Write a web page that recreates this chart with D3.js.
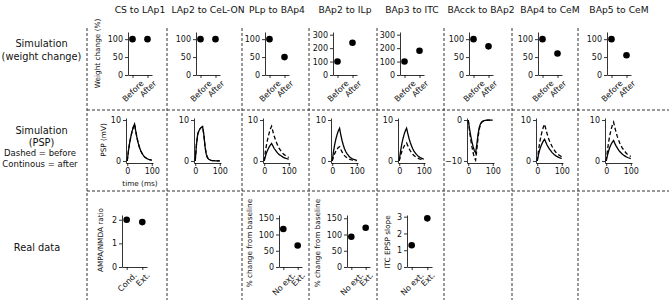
<!DOCTYPE html>
<html>
<head>
<meta charset="utf-8">
<script src="https://cdn.jsdelivr.net/npm/d3@7"></script>
<style>
  body { margin: 0; background: #fff; }
  text { font-family: "DejaVu Sans", sans-serif; fill: #111; }
</style>
</head>
<body>
<svg id="drawing_region"></svg>
<script>
// ---- data ----
const columns = ["CS to LAp1", "LAp2 to CeL-ON", "PLp to BAp4", "BAp2 to ILp",
                 "BAp3 to ITC", "BAcck to BAp2", "BAp4 to CeM", "BAp5 to CeM"];
const weightLabels = ["Before", "After"];
const weightBefore = [100, 100, 100, 100, 100, 100, 100, 100];
const weightAfter  = [100, 100, 50, 240, 180, 80, 60, 55];
const weightMax    = [120, 120, 120, 320, 320, 120, 120, 120];
const weightTicks  = [[0, 50, 100], [0, 50, 100], [0, 50, 100], [0, 100, 200, 300],
                      [0, 100, 200, 300], [0, 50, 100], [0, 50, 100], [0, 50, 100]];

const time = [0, 5, 10, 15, 20, 25, 30, 35, 40, 45, 50, 55, 60, 65, 70, 75, 80, 85, 90, 95, 100];
const pspBefore = [
  [0, 2.5, 4.5, 6.0, 7.3, 8.3, 9.0, 7.2, 5.6, 4.3, 3.3, 2.5, 1.9, 1.4, 1.0, 0.8, 0.6, 0.45, 0.35, 0.25, 0.2],
  [0, 4.0, 6.5, 7.4, 7.9, 8.2, 8.4, 6.5, 3.5, 1.6, 0.8, 0.4, 0.25, 0.15, 0.1, 0.08, 0.05, 0.04, 0.03, 0.02, 0.02],
  [0, 2.4, 4.2, 5.6, 6.8, 7.8, 8.5, 7.3, 6.2, 5.3, 4.5, 3.8, 3.2, 2.7, 2.3, 1.9, 1.6, 1.4, 1.2, 1.0, 0.85],
  [0, 1.0, 1.8, 2.4, 2.9, 3.3, 3.5, 2.8, 2.2, 1.7, 1.3, 1.0, 0.8, 0.6, 0.45, 0.35, 0.27, 0.2, 0.15, 0.1, 0.08],
  [0, 1.2, 2.2, 3.0, 3.6, 4.1, 4.4, 3.7, 3.0, 2.5, 2.0, 1.65, 1.35, 1.1, 0.9, 0.7, 0.58, 0.47, 0.38, 0.3, 0.25],
  [0, -2.5, -4.7, -6.5, -8.0, -9.2, -9.8, -7.3, -4.3, -2.2, -1.1, -0.55, -0.3, -0.18, -0.1, -0.06, -0.03, -0.02, -0.01, 0, 0],
  [0, 2.5, 4.5, 6.0, 7.3, 8.3, 9.0, 7.8, 6.7, 5.7, 4.9, 4.2, 3.6, 3.1, 2.6, 2.2, 1.9, 1.6, 1.4, 1.2, 1.0],
  [0, 2.6, 4.7, 6.4, 7.7, 8.8, 9.5, 8.2, 7.0, 6.0, 5.2, 4.4, 3.8, 3.2, 2.8, 2.4, 2.0, 1.7, 1.5, 1.3, 1.1]
];
const pspAfter = [
  [0, 2.5, 4.5, 6.0, 7.3, 8.3, 9.0, 7.2, 5.6, 4.3, 3.3, 2.5, 1.9, 1.4, 1.0, 0.8, 0.6, 0.45, 0.35, 0.25, 0.2],
  [0, 4.0, 6.5, 7.4, 7.9, 8.2, 8.4, 6.5, 3.5, 1.6, 0.8, 0.4, 0.25, 0.15, 0.1, 0.08, 0.05, 0.04, 0.03, 0.02, 0.02],
  [0, 1.2, 2.1, 2.8, 3.4, 3.9, 4.3, 3.7, 3.1, 2.7, 2.3, 1.9, 1.6, 1.4, 1.2, 1.0, 0.8, 0.7, 0.6, 0.5, 0.45],
  [0, 2.2, 4.0, 5.4, 6.5, 7.4, 8.0, 6.4, 5.0, 3.9, 3.0, 2.3, 1.8, 1.4, 1.0, 0.8, 0.6, 0.45, 0.35, 0.25, 0.2],
  [0, 2.2, 4.0, 5.4, 6.5, 7.4, 8.0, 6.7, 5.5, 4.5, 3.7, 3.0, 2.4, 2.0, 1.6, 1.3, 1.05, 0.85, 0.7, 0.55, 0.45],
  [0, -2.0, -3.8, -5.3, -6.5, -7.5, -8.0, -6.0, -3.5, -1.8, -0.9, -0.45, -0.25, -0.15, -0.1, -0.05, -0.03, -0.02, -0.01, 0, 0],
  [0, 1.5, 2.7, 3.6, 4.3, 4.9, 5.3, 4.6, 3.9, 3.4, 2.9, 2.5, 2.1, 1.8, 1.5, 1.3, 1.1, 0.95, 0.8, 0.7, 0.6],
  [0, 1.4, 2.5, 3.4, 4.1, 4.6, 5.0, 4.3, 3.7, 3.2, 2.7, 2.3, 2.0, 1.7, 1.45, 1.25, 1.05, 0.9, 0.78, 0.67, 0.58]
];
const pspDomain = [[-0.5, 10.5], [-0.5, 10.5], [-0.5, 10.5], [-0.5, 10.5],
                   [-0.5, 10.5], [-10.5, 0.5], [-0.5, 10.5], [-0.5, 10.5]];
const pspTicks  = [[0, 10], [0, 10], [0, 10], [0, 10], [0, 10], [-10, 0], [0, 10], [0, 10]];
const timeTicks = [0, 100];

const realColumn  = [0, 2, 3, 4];
const realLabels  = [["Cond.", "Ext."], ["No ext.", "Ext."], ["No ext.", "Ext."], ["No ext.", "Ext."]];
const realValues  = [[2.0, 1.9], [117, 66], [93, 121], [1.3, 2.9]];
const realMax     = [2.2, 160, 160, 3.1];
const realTicks   = [[0, 1, 2], [0, 50, 100, 150], [0, 50, 100, 150], [0, 1, 2, 3]];
const realYLabels = ["AMPA/NMDA ratio", "% change from baseline", "% change from baseline", "ITC EPSP slope"];

const rowLabels = [["Simulation", "(weight change)"], ["Simulation", "(PSP)"], ["Real data"]];
const pspNote = ["Dashed = before", "Continous = after"];

// ---- layout ----
const config = {
  width: 669, height: 300,
  colLeft: [128, 196, 265, 333, 400, 469, 538, 607],
  colWidth: 24,
  realLeft: [122, 279, 347, 407],
  realWidth: [25, 23, 23, 25],
  row1: {top: 32, bottom: 75},
  row2: {top: 118, bottom: 163},
  row3: {top: 215, bottom: 267},
  dividersX: [87, 167, 242, 309, 377, 444, 512, 578],
  dividersY: [110, 191],
  tickFont: 8, labelFont: 7.3
};

const svg = d3.select('#drawing_region')
  .attr('width', config.width)
  .attr('height', config.height);

// dashed grid
svg.selectAll('line.vdiv')
  .data(config.dividersX)
  .enter().append('line')
  .attr('x1', d => d).attr('x2', d => d)
  .attr('y1', 28).attr('y2', config.height)
  .attr('stroke', '#333').attr('stroke-width', 1)
  .attr('stroke-dasharray', '3,2');
svg.selectAll('line.hdiv')
  .data(config.dividersY)
  .enter().append('line')
  .attr('x1', 87).attr('x2', config.width)
  .attr('y1', d => d).attr('y2', d => d)
  .attr('stroke', '#333').attr('stroke-width', 1)
  .attr('stroke-dasharray', '3,2');

function styleAxis(g) {
  g.selectAll('.domain').attr('stroke', '#000').attr('stroke-width', 0.8);
  g.selectAll('.tick line').attr('stroke', '#000').attr('stroke-width', 0.8);
  g.selectAll('.tick text').attr('font-size', config.tickFont).attr('font-family', '"DejaVu Sans"').attr('fill', '#111');
}

function rotateTicks(g) {
  g.selectAll('.tick text').each(function() {
    const len = this.getComputedTextLength();
    const h = (len + config.tickFont) * Math.SQRT1_2;
    d3.select(this)
      .attr('text-anchor', 'middle')
      .attr('y', 0).attr('dy', '0.35em')
      .attr('transform', `translate(0,${4 + h / 2}) rotate(-45)`);
  });
}

function makeAxes(left, width, top, bottom, xdomain, ydomain, xticks, yticks, rotate) {
  const g = svg.append('g');
  const x = d3.scaleLinear().domain(xdomain).range([left, left + width]);
  const y = d3.scaleLinear().domain(ydomain).range([bottom, top]);
  const xa = g.append('g').attr('transform', `translate(0,${bottom})`);
  if (rotate) {
    xa.call(d3.axisBottom(x).tickValues([0, 1]).tickFormat(d => xticks[d]).tickSize(3).tickSizeOuter(0).tickPadding(2));
  } else {
    xa.call(d3.axisBottom(x).tickValues(xticks).tickFormat(d3.format('d')).tickSize(3).tickSizeOuter(0).tickPadding(2));
  }
  styleAxis(xa);
  if (rotate) rotateTicks(xa);
  const ya = g.append('g').attr('transform', `translate(${left},0)`)
    .call(d3.axisLeft(y).tickValues(yticks).tickFormat(d3.format('d')).tickSize(3).tickSizeOuter(0).tickPadding(2));
  styleAxis(ya);
  return {g, x, y};
}

function yLabel(text, x, cy) {
  svg.append('text')
    .attr('transform', `translate(${x},${cy}) rotate(-90)`)
    .attr('text-anchor', 'middle')
    .attr('font-size', config.labelFont)
    .text(text);
}

// column titles
svg.selectAll('text.title')
  .data(columns)
  .enter().append('text')
  .attr('x', (d, i) => config.colLeft[i] + config.colWidth / 2)
  .attr('y', 13)
  .attr('text-anchor', 'middle')
  .attr('font-size', 9.2)
  .text(d => d);

// row labels
const rowY = [[47, 60], [134, 146]];
rowLabels.slice(0, 2).forEach((lines, r) => {
  lines.forEach((s, k) => {
    svg.append('text').attr('x', 41.5).attr('y', rowY[r][k])
      .attr('text-anchor', 'middle').attr('font-size', 9.8).text(s);
  });
});
pspNote.forEach((s, k) => {
  svg.append('text').attr('x', 40).attr('y', 156 + k * 10.5)
    .attr('text-anchor', 'middle').attr('font-size', 8.5).text(s);
});
svg.append('text').attr('x', 37).attr('y', 251)
  .attr('text-anchor', 'middle').attr('font-size', 9.8).text(rowLabels[2][0]);

// row 1: weight change
columns.forEach((c, i) => {
  const ax = makeAxes(config.colLeft[i], config.colWidth, config.row1.top, config.row1.bottom,
    [-0.3, 1.3], [0, weightMax[i]], weightLabels, weightTicks[i], true);
  ax.g.selectAll('circle')
    .data([weightBefore[i], weightAfter[i]])
    .enter().append('circle')
    .attr('cx', (d, k) => ax.x(k))
    .attr('cy', d => ax.y(d))
    .attr('r', 3.3)
    .attr('fill', '#000');
});
yLabel('Weight change (%)', 100, 53.5);

// row 2: PSP traces
columns.forEach((c, i) => {
  const ax = makeAxes(config.colLeft[i] - 2, 27, config.row2.top, config.row2.bottom,
    [-5, 105], pspDomain[i], timeTicks, pspTicks[i], false);
  const line = d3.line().x(d => ax.x(d[0])).y(d => ax.y(d[1]));
  ax.g.append('path')
    .attr('d', line(time.map((t, k) => [t, pspBefore[i][k]])))
    .attr('fill', 'none').attr('stroke', '#000').attr('stroke-width', 1.3)
    .attr('stroke-dasharray', '4,2.5');
  ax.g.append('path')
    .attr('d', line(time.map((t, k) => [t, pspAfter[i][k]])))
    .attr('fill', 'none').attr('stroke', '#000').attr('stroke-width', 1.3);
});
yLabel('PSP (mV)', 106, 140);
svg.append('text').attr('x', 140).attr('y', 186)
  .attr('text-anchor', 'middle').attr('font-size', config.labelFont).text('time (ms)');

// row 3: real data
realColumn.forEach((c, j) => {
  const ax = makeAxes(config.realLeft[j], config.realWidth[j], config.row3.top, config.row3.bottom,
    [-0.3, 1.3], [0, realMax[j]], realLabels[j], realTicks[j], true);
  ax.g.selectAll('circle')
    .data(realValues[j])
    .enter().append('circle')
    .attr('cx', (d, k) => ax.x(k))
    .attr('cy', d => ax.y(d))
    .attr('r', 3.3)
    .attr('fill', '#000');
});
yLabel(realYLabels[0], 103, 240);
yLabel(realYLabels[1], 252, 243);
yLabel(realYLabels[2], 320, 243);
yLabel(realYLabels[3], 390, 242);
</script>
</body>
</html>
